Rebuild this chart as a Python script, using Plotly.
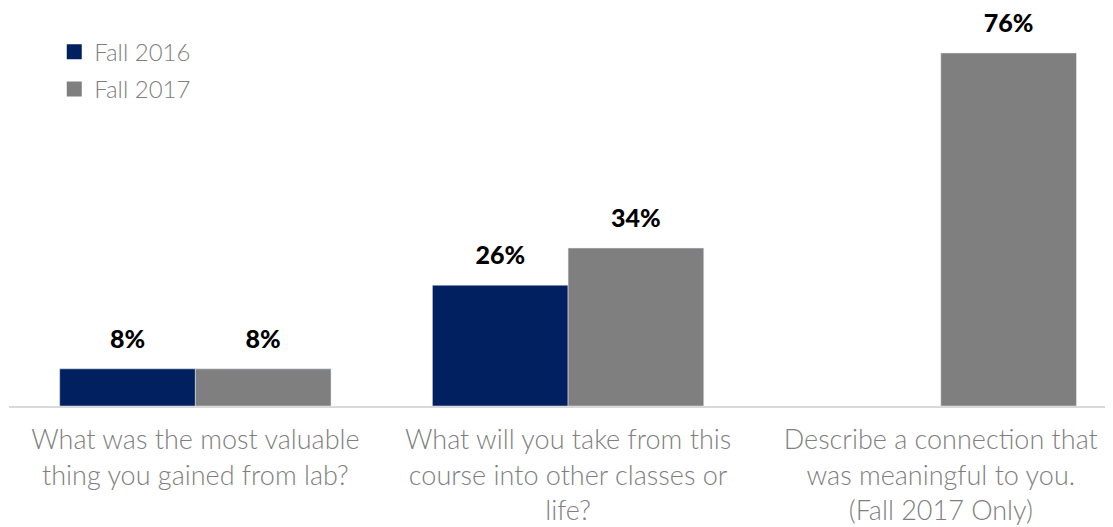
import plotly.graph_objects as go

categories = [
    "What was the most valuable<br>thing you gained from lab?",
    "What will you take from this<br>course into other classes or<br>life?",
    "Describe a connection that<br>was meaningful to you.<br>(Fall 2017 Only)",
]
fall_2016 = [8, 26, None]
fall_2017 = [8, 34, 76]
series_names = ["Fall 2016", "Fall 2017"]
colors = ["#002060", "#7F7F7F"]

FONT = "Lato"
fig = go.Figure()
for name, vals, col in zip(series_names, [fall_2016, fall_2017], colors):
    fig.add_trace(go.Bar(
        x=categories, y=vals, name=name, marker_color=col,
        offsetgroup=name, showlegend=False,
    ))
    fig.add_trace(go.Scatter(
        x=categories, y=vals, mode="markers+text", offsetgroup=name,
        text=[f"{v}%" if v is not None else "" for v in vals],
        textposition="top center", cliponaxis=False,
        textfont=dict(family=FONT, size=25, color="#000000", weight=900),
        marker=dict(size=22, opacity=0), showlegend=False, hoverinfo="skip",
    ))
for i, (name, col) in enumerate(zip(series_names, colors)):
    fig.add_trace(go.Scatter(
        x=[None], y=[None], mode="markers", name=name, legendgroup=name,
        marker=dict(symbol="square", size=15, color=col),
    ))

fig.update_layout(
    width=1105, height=519,
    margin=dict(l=1, r=0, t=12, b=121),
    paper_bgcolor="white", plot_bgcolor="white",
    barmode="group", bargap=0.272, bargroupgap=0,
    scattermode="group", scattergap=0.272,
    font=dict(family=FONT, color="#7F7F7F"),
    legend=dict(
        x=0.041, y=0.975, xanchor="left", yanchor="top",
        font=dict(family=FONT, size=24, color="#7F7F7F", weight=300),
        tracegroupgap=3, traceorder="grouped", bgcolor="rgba(0,0,0,0)",
        itemwidth=30,
    ),
    xaxis=dict(
        range=[-0.5, 2.462], showline=True, linecolor="#D9D9D9", linewidth=2,
        tickfont=dict(family=FONT, size=27, color="#7F7F7F", weight=300),
        ticks="", ticklabelstandoff=9, showgrid=False, zeroline=False,
    ),
    yaxis=dict(range=[0, 83.1], visible=False, showgrid=False, zeroline=False),
)
fig.write_html("out.html")
